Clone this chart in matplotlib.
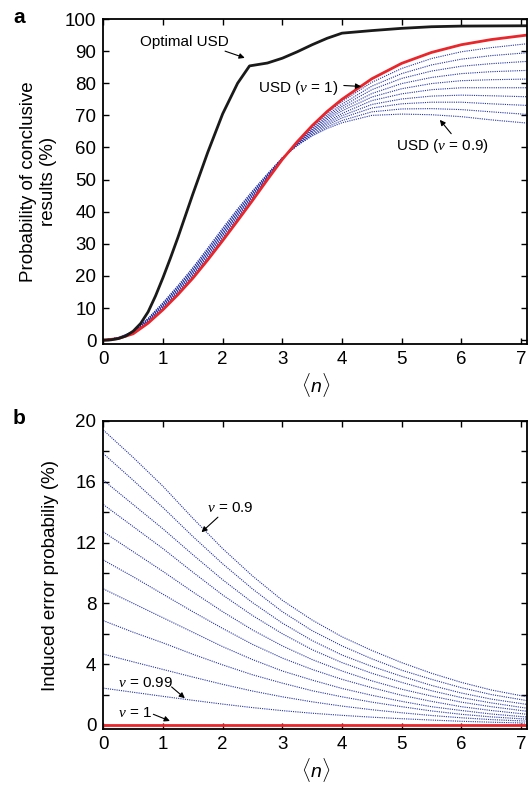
import matplotlib
matplotlib.use('Agg')
import matplotlib.pyplot as plt

plt.rcParams['font.family'] = ['Liberation Sans', 'DejaVu Sans']
plt.rcParams['mathtext.fontset'] = 'custom'
plt.rcParams['mathtext.rm'] = 'Liberation Sans'
plt.rcParams['mathtext.it'] = 'Liberation Serif:italic'
plt.rcParams['mathtext.sf'] = 'Liberation Sans:italic'

# ---- pannello a: probabilita' di risultati conclusivi (%) ----
n_top = [0, 0.25, 0.5, 0.75, 1, 1.25, 1.5, 1.75, 2, 2.25, 2.5, 2.75, 3,
         3.25, 3.5, 3.75, 4, 4.5, 5, 5.5, 6, 6.5, 7.1]

usd_nu1 = [0, 0.5, 2.0, 5.3, 9.5, 14.2, 19.3, 25.0, 31.0, 37.2, 43.5, 50.0, 56.3,
           61.8, 66.8, 71.2, 75.0, 81.4, 86.2, 89.6, 92.0, 93.6, 95.0]

# curve per nu = 0.90, 0.91, ..., 0.99
usd_nu = [
    [0, 0.8, 2.8, 6.8, 11.7, 17.0, 22.6, 28.7, 34.9, 40.9, 46.5, 51.8, 56.8, 60.6, 63.6, 65.9, 67.7, 70.0, 70.4, 70.2, 69.6, 68.6, 67.6],
    [0, 0.8, 2.7, 6.7, 11.5, 16.7, 22.3, 28.3, 34.5, 40.5, 46.2, 51.6, 56.8, 60.7, 63.9, 66.4, 68.4, 71.1, 72.0, 72.1, 71.8, 71.1, 70.3],
    [0, 0.7, 2.6, 6.5, 11.3, 16.4, 21.9, 28.0, 34.1, 40.2, 45.9, 51.4, 56.7, 60.8, 64.2, 67.0, 69.2, 72.3, 73.6, 74.1, 74.1, 73.6, 73.1],
    [0, 0.7, 2.6, 6.4, 11.0, 16.2, 21.6, 27.6, 33.7, 39.8, 45.6, 51.3, 56.7, 61.0, 64.6, 67.5, 69.9, 73.4, 75.1, 76.0, 76.3, 76.1, 75.8],
    [0, 0.7, 2.5, 6.2, 10.8, 15.9, 21.3, 27.2, 33.3, 39.4, 45.3, 51.1, 56.6, 61.1, 64.9, 68.0, 70.6, 74.6, 76.7, 78.0, 78.6, 78.6, 78.6],
    [0, 0.7, 2.4, 6.1, 10.6, 15.6, 21.0, 26.9, 33.0, 39.1, 45.0, 50.9, 56.6, 61.2, 65.2, 68.6, 71.4, 75.7, 78.3, 79.9, 80.8, 81.1, 81.3],
    [0, 0.6, 2.3, 5.9, 10.4, 15.3, 20.6, 26.5, 32.6, 38.7, 44.7, 50.7, 56.5, 61.3, 65.5, 69.1, 72.1, 76.8, 79.9, 81.8, 83.0, 83.6, 84.0],
    [0, 0.6, 2.2, 5.8, 10.2, 15.0, 20.3, 26.1, 32.2, 38.3, 44.4, 50.5, 56.5, 61.4, 65.8, 69.6, 72.8, 78.0, 81.5, 83.8, 85.3, 86.1, 86.8],
    [0, 0.6, 2.2, 5.6, 9.9, 14.8, 20.0, 25.7, 31.8, 37.9, 44.1, 50.4, 56.4, 61.6, 66.2, 70.1, 73.5, 79.1, 83.0, 85.7, 87.5, 88.6, 89.5],
    [0, 0.5, 2.1, 5.5, 9.7, 14.5, 19.6, 25.4, 31.4, 37.6, 43.8, 50.2, 56.4, 61.7, 66.5, 70.7, 74.3, 80.3, 84.6, 87.7, 89.8, 91.1, 92.3],
]

n_opt = [0, 0.125, 0.25, 0.375, 0.5, 0.625, 0.75, 0.875, 1, 1.125, 1.25, 1.5, 1.75,
         2, 2.25, 2.45, 2.75, 3, 3.25, 3.5, 3.75, 4, 4.5, 5, 5.5, 6, 7.1]
usd_opt = [0, 0.1, 0.5, 1.3, 2.8, 5.2, 8.8, 13.8, 19.5, 25.6, 32.0, 45.5, 58.5,
           70.5, 80.0, 85.4, 86.3, 87.8, 89.8, 92.0, 94.0, 95.6, 96.4, 97.1, 97.6, 97.8, 97.9]

# ---- pannello b: probabilita' di errore indotto (%) ----
n_bot = [0, 0.5, 1, 1.5, 2, 2.5, 3, 3.5, 4, 4.5, 5, 5.5, 6, 6.5, 7.1]
err_nu = [
    [19.4, 17.6, 15.7, 13.6, 11.6, 9.8, 8.2, 6.9, 5.8, 4.9, 4.1, 3.4, 2.8, 2.3, 1.85],
    [17.85, 16.1, 14.3, 12.4, 10.6, 8.95, 7.45, 6.2, 5.2, 4.35, 3.6, 3.0, 2.45, 2.0, 1.6],
    [16.1, 14.5, 12.9, 11.2, 9.55, 8.05, 6.7, 5.55, 4.6, 3.85, 3.2, 2.6, 2.1, 1.7, 1.35],
    [14.5, 13.05, 11.6, 10.05, 8.55, 7.2, 6.0, 4.95, 4.1, 3.4, 2.8, 2.25, 1.8, 1.45, 1.1],
    [12.7, 11.4, 10.1, 8.75, 7.45, 6.25, 5.2, 4.3, 3.55, 2.9, 2.35, 1.9, 1.5, 1.2, 0.9],
    [10.85, 9.75, 8.6, 7.45, 6.35, 5.3, 4.4, 3.65, 3.0, 2.45, 1.95, 1.55, 1.2, 0.95, 0.7],
    [8.95, 8.0, 7.05, 6.1, 5.15, 4.3, 3.55, 2.95, 2.4, 1.95, 1.55, 1.2, 0.95, 0.72, 0.52],
    [6.86, 6.1, 5.4, 4.65, 3.95, 3.3, 2.75, 2.25, 1.85, 1.5, 1.2, 0.92, 0.7, 0.53, 0.38],
    [4.66, 4.15, 3.65, 3.15, 2.67, 2.23, 1.85, 1.52, 1.24, 1.0, 0.8, 0.62, 0.47, 0.35, 0.25],
    [2.42, 2.15, 1.88, 1.62, 1.37, 1.14, 0.94, 0.77, 0.63, 0.51, 0.41, 0.32, 0.24, 0.18, 0.12],
]
err_nu1 = [0.0] * len(n_bot)

blu = '#2433a6'
rosso = '#e8262b'
nero = '#1a1a1a'
freccia = dict(arrowstyle='-|>', lw=0.8, color='k', mutation_scale=8, shrinkA=0, shrinkB=0)

fig = plt.figure(figsize=(5.3, 7.86), dpi=100)
ax1 = fig.add_axes([0.195, 0.5623, 0.7993, 0.4135])
ax2 = fig.add_axes([0.195, 0.0719, 0.7993, 0.3925])

# pannello a
for curva in usd_nu:
    ax1.plot(n_top, curva, color=blu, lw=0.8, linestyle=(0, (1, 1)))
ax1.plot(n_top, usd_nu1, color=rosso, lw=2)
ax1.plot(n_opt, usd_opt, color=nero, lw=2)
ax1.set_xlim(0, 7.1)
ax1.set_ylim(-1.2, 100)
ax1.set_xticks(range(0, 8))
ax1.set_yticks(range(0, 101, 10))
ax1.set_ylabel('Probability of conclusive\nresults (%)', fontsize=13.5, labelpad=6)
ax1.set_xlabel(r'$\langle\mathsf{n}\rangle$', fontsize=14, labelpad=2)

ax1.text(1.36, 92.8, 'Optimal USD', fontsize=11, ha='center', va='center')
ax1.annotate('', xy=(2.37, 87.9), xytext=(2.04, 90.0), arrowprops=freccia)
ax1.text(3.26, 78.6, r'USD ($\nu$ = 1)', fontsize=11, ha='center', va='center')
ax1.annotate('', xy=(4.32, 79.0), xytext=(4.03, 79.3), arrowprops=freccia)
ax1.text(5.69, 60.6, r'USD ($\nu$ = 0.9)', fontsize=11, ha='center', va='center')
ax1.annotate('', xy=(5.64, 68.6), xytext=(5.83, 64.3), arrowprops=freccia)

# pannello b
for curva in err_nu:
    ax2.plot(n_bot, curva, color=blu, lw=0.8, linestyle=(0, (1, 1)))
ax2.plot(n_bot, err_nu1, color=rosso, lw=2)
ax2.set_xlim(0, 7.1)
ax2.set_ylim(-0.3, 20)
ax2.set_xticks(range(0, 8))
ax2.set_yticks(range(0, 21, 2))
ax2.set_yticklabels([str(v) if v % 4 == 0 else '' for v in range(0, 21, 2)])
ax2.set_ylabel('Induced error probabiliy (%)', fontsize=13.5, labelpad=12)
ax2.set_xlabel(r'$\langle\mathsf{n}\rangle$', fontsize=14, labelpad=2)

ax2.text(2.13, 14.3, r'$\nu$ = 0.9', fontsize=11, ha='center', va='center')
ax2.annotate('', xy=(1.645, 12.68), xytext=(1.92, 13.67), arrowprops=freccia)
ax2.text(0.70, 2.79, r'$\nu$ = 0.99', fontsize=11, ha='center', va='center')
ax2.annotate('', xy=(1.366, 1.76), xytext=(1.144, 2.5), arrowprops=freccia)
ax2.text(0.53, 0.81, r'$\nu$ = 1', fontsize=11, ha='center', va='center')
ax2.annotate('', xy=(1.115, 0.26), xytext=(0.838, 0.7), arrowprops=freccia)

for ax in (ax1, ax2):
    ax.tick_params(direction='in', top=True, right=True, length=4, width=1,
                   labelsize=13.5, pad=5)
    for s in ax.spines.values():
        s.set_linewidth(1.3)

fig.text(0.036, 0.978, 'a', fontsize=15, fontweight='bold', ha='center', va='center')
fig.text(0.036, 0.468, 'b', fontsize=15, fontweight='bold', ha='center', va='center')

fig.savefig('out.png', dpi=100)
